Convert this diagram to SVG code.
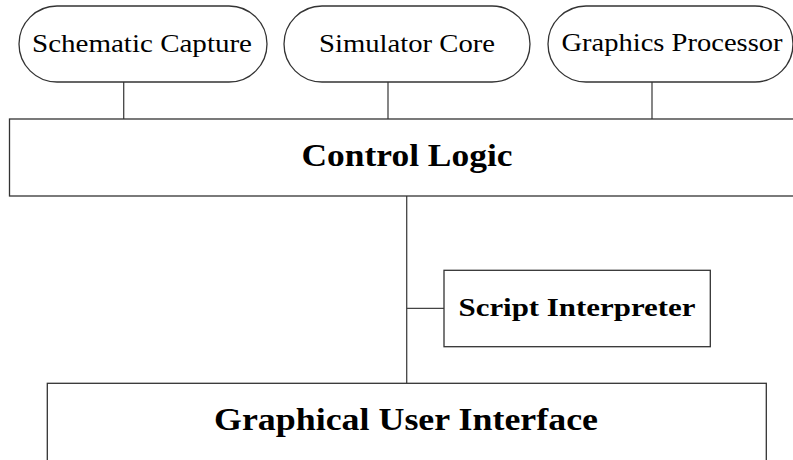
<svg xmlns="http://www.w3.org/2000/svg" width="793" height="460" viewBox="0 0 793 460">
<style>
.shape{fill:#fff;stroke:#333;stroke-width:1.3}
.conn line{stroke:#444;stroke-width:1.3}
.t{font-family:"Liberation Serif","DejaVu Serif",serif;fill:#000;text-anchor:middle}
.b{font-weight:bold}
</style>
<rect width="793" height="460" fill="#fff"/>
<g class="conn">
<line x1="123.7" y1="82" x2="123.7" y2="119"/>
<line x1="388" y1="82" x2="388" y2="119"/>
<line x1="652" y1="82" x2="652" y2="119"/>
<line x1="406.7" y1="196" x2="406.7" y2="383"/>
<line x1="406.7" y1="308.3" x2="444" y2="308.3"/>
</g>
<g id="schematic">
<rect class="shape" x="19" y="6" width="248" height="76" rx="38"/>
<text class="t" x="142" y="52" font-size="25" textLength="220" lengthAdjust="spacingAndGlyphs">Schematic Capture</text>
</g>
<g id="simulator">
<rect class="shape" x="284" y="6" width="246" height="76" rx="38"/>
<text class="t" x="407" y="52" font-size="25" textLength="176" lengthAdjust="spacingAndGlyphs">Simulator Core</text>
</g>
<g id="graphics">
<rect class="shape" x="548" y="6" width="245" height="76" rx="38"/>
<text class="t" x="672" y="51" font-size="25" textLength="221" lengthAdjust="spacingAndGlyphs">Graphics Processor</text>
</g>
<g id="control">
<rect class="shape" x="9.5" y="119" width="800" height="77"/>
<text class="t b" x="407" y="165.7" font-size="32" textLength="211" lengthAdjust="spacingAndGlyphs">Control Logic</text>
</g>
<g id="script">
<rect class="shape" x="444" y="270.3" width="266.3" height="76.4"/>
<text class="t b" x="577" y="316" font-size="25" textLength="237" lengthAdjust="spacingAndGlyphs">Script Interpreter</text>
</g>
<g id="gui">
<rect class="shape" x="47.3" y="383.3" width="719" height="100"/>
<text class="t b" x="406" y="430" font-size="32" textLength="384" lengthAdjust="spacingAndGlyphs">Graphical User Interface</text>
</g>
</svg>
